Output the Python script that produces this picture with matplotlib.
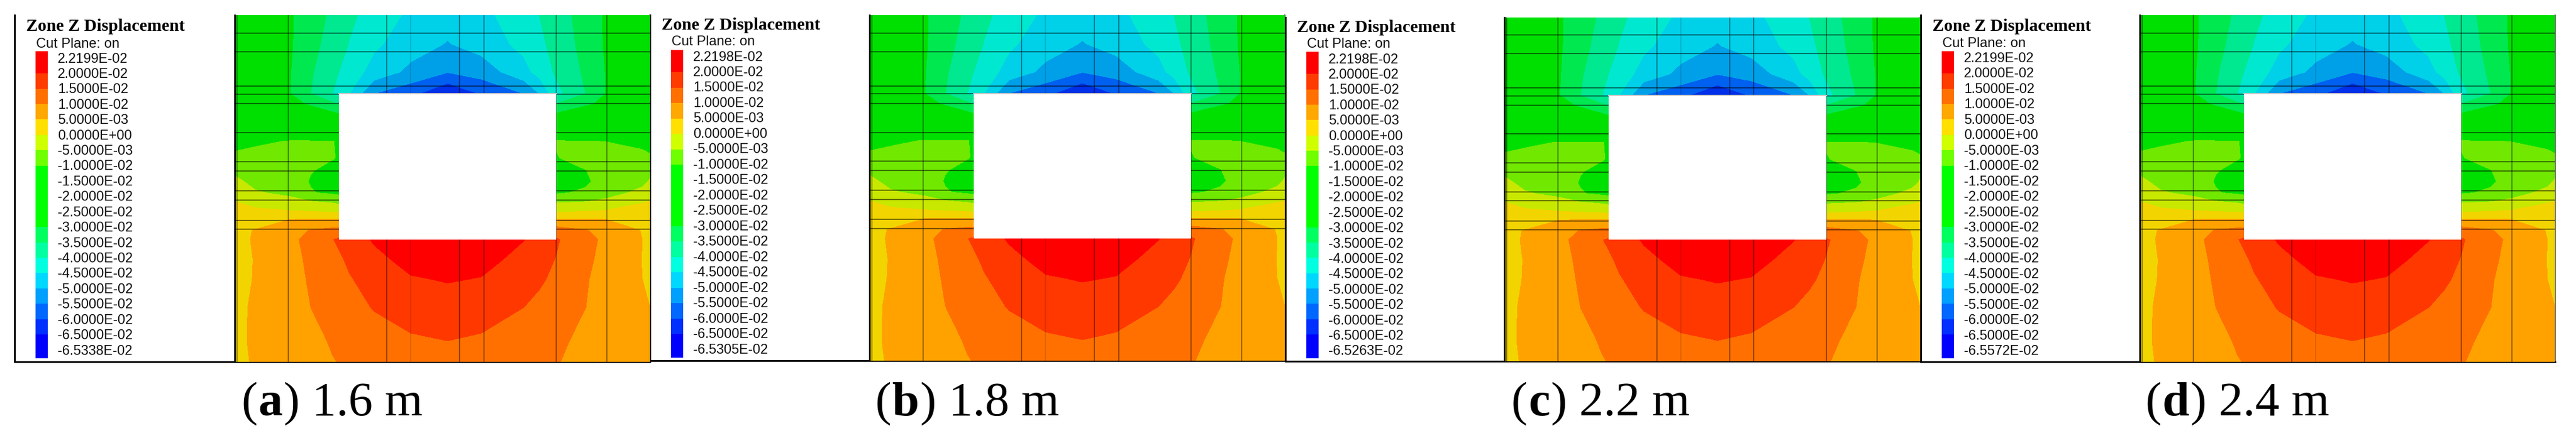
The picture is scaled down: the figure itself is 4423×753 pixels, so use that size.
import numpy as np
import matplotlib
matplotlib.use('Agg')
import matplotlib.pyplot as plt
from matplotlib.patches import Rectangle

plt.rcParams['font.family'] = ['Liberation Sans', 'DejaVu Sans']

# displacement field (units of 1e-3), nodes on a model grid
x_nodes = [26, 100, 222, 295, 372, 432, 520, 650, 780, 900, 1050, 1105, 1165, 1270, 1340, 1470, 1497]
y_nodes = [54, 158, 258, 335, 372, 405, 505, 565, 610, 650, 690, 720, 760, 785, 825, 857, 930, 1000, 1100, 1220, 1295]
disp = [
    [-22, -25, -29.5, -32.5, -36, -39, -42, -46, -48, -46.5, -41.8, -40, -37.7, -32.5, -29.5, -25, -24],
    [-22, -25, -29.5, -33.2, -37.2, -40.2, -44.1, -47.8, -50.3, -48, -43.5, -41.1, -38.3, -33.2, -29.5, -25, -24],
    [-22, -25, -29.8, -34.4, -38.7, -42.2, -47, -51.3, -54.8, -52.8, -46.8, -43.1, -39.3, -34.1, -29.9, -25, -24],
    [-21, -24, -30, -35, -40, -45, -55, -58.5, -64.9, -59.5, -55, -50, -41.5, -35, -30, -24, -22],
    [-21, -24, -27.5, -31, -34, -38, -40, -42, -42, -42, -40, -38, -35, -31.1, -28.4, -24, -22],
    [-20, -22, -24, -26, -29.3, -32, -32, -32, -32, -32, -32, -32, -30, -26, -24, -22, -20],
    [-12.5, -10.8, -9.8, -9.8, -9.8, -12, -12, -12, -12, -12, -12, -12, -9.7, -9.9, -10.1, -12, -13],
    [-8.4, -8.4, -8.5, -8.8, -9.8, -11, -12, -12, -12, -12, -12, -12, -10.2, -8.5, -7.5, -8, -9],
    [-6, -7, -7.9, -9.8, -11, -12, -12, -12, -12, -12, -12, -12, -12, -10.1, -7.5, -6.8, -6],
    [-3.8, -6.5, -8, -10.3, -11.5, -12, -12, -12, -12, -12, -12, -12, -12, -10.8, -8, -6.1, -4.6],
    [-1.8, -4.5, -6.2, -9.7, -10.8, -11.5, -11, -11, -11, -11, -11, -11, -10.6, -9.2, -6.8, -3.8, -2.2],
    [0, -1.5, -3.5, -5, -6, -8, -8, -8, -8, -8, -8, -8, -6, -5.3, -4.2, -0.5, 0],
    [2.5, 1, 0.7, 0.4, 0.1, -1, -1, -1, -1, -1, -1, -1, 0, 0.5, 1, 2.2, 2.5],
    [3.5, 3.3, 5, 5.1, 5.2, 5, 5, 5, 5, 5, 5, 5, 5.2, 5.2, 5, 3, 2.8],
    [4, 5.2, 8, 10.3, 11.5, 12, 13, 13, 13, 13, 13, 13, 12.5, 10.3, 8, 4.8, 3.8],
    [3.8, 5.4, 9, 11.3, 14.8, 17.5, 20.5, 22, 22.2, 22, 20.1, 18, 15.5, 11.5, 9, 5, 4],
    [3.6, 5.2, 8.8, 10.7, 13.7, 15.6, 18.7, 21.5, 22, 21.3, 18.7, 16.6, 14.8, 10.8, 8.8, 4.9, 4.2],
    [3.5, 5.3, 8.6, 10.4, 12.8, 14.7, 16.5, 19.6, 20.3, 19.8, 16.8, 15.7, 13.9, 10.3, 8.5, 5, 4.3],
    [4, 5.6, 8.4, 10, 11.9, 13.2, 15.3, 17, 18, 17, 15, 13.8, 12, 10, 8.8, 5.7, 5],
    [4, 5.7, 7.9, 8.8, 10.4, 11.4, 12.8, 14.4, 15, 14.4, 12.5, 11.5, 10.8, 9, 8.2, 5.6, 5],
    [3.8, 5.5, 7.6, 8.6, 9.8, 10.6, 11.8, 12.8, 13, 12.8, 11.7, 10.9, 10.2, 8.8, 8, 5.5, 5],
]
levels = [-66, -65, -60, -55, -50, -45, -40, -35, -30, -10, -5, 0, 5, 10, 15, 20, 25]
band_colors = ['#0030e8', '#0030e8', '#0060f0', '#00a0e8', '#00d0e8', '#00e8d0', '#00e890', '#00e850',
               '#00e000', '#70e800', '#c8e800', '#f2d400', '#ffa200', '#ff7000', '#ff3800', '#ff0000']

# opening and mesh lines in the same model coordinates
hole_x = [395, 1165]
hole_y = [336, 857]
mesh_x = [35, 215, 565, 650, 823, 908, 1165, 1344]
mesh_y = [118, 185, 308, 337, 371, 475, 578, 612, 683, 716, 788, 821]

# legend
bar_colors = ['#ff0000', '#ff3c00', '#ff7000', '#ffa800', '#ffe000', '#d0ff00', '#70ff00', '#00ff00',
              '#00ff60', '#00ffa0', '#00ffe0', '#00d8ff', '#00a0ff', '#0068ff', '#0030ff', '#0000ff']
bar_sizes = [1.45, 1, 1, 1, 1, 1, 1, 4, 1, 1, 1, 1, 1, 1, 1, 1.55]
label_mid = ['2.0000E-02', '1.5000E-02', '1.0000E-02', '5.0000E-03', '0.0000E+00', '-5.0000E-03',
             '-1.0000E-02', '-1.5000E-02', '-2.0000E-02', '-2.5000E-02', '-3.0000E-02', '-3.5000E-02',
             '-4.0000E-02', '-4.5000E-02', '-5.0000E-02', '-5.5000E-02', '-6.0000E-02', '-6.5000E-02']
label_max = ['2.2199E-02', '2.2198E-02', '2.2198E-02', '2.2199E-02']
label_min = ['-6.5338E-02', '-6.5305E-02', '-6.5263E-02', '-6.5572E-02']
caption_letter = ['a', 'b', 'c', 'd']
caption_value = ['1.6 m', '1.8 m', '2.2 m', '2.4 m']

# layout in pixels
W, H = 4423, 753
frame_left = [25, 1116, 2207, 3298]
plot_left = [403, 1493, 2583, 3674]
plot_right = [1116, 2206, 3297, 4387]
plot_top = [26, 26, 30, 26]
plot_bottom = [622, 620, 621, 622]
title_y = [45, 43, 47, 45]
cut_y = [76, 72, 76, 75]
bar_top = [88, 86, 89, 88]
bar_bottom = [616, 615, 616, 616]
first_label_y = [101, 98, 102, 100]
last_label_y = [603, 601, 604, 604]
caption_x = [414, 1502, 2594, 3683]
caption_base = 714

fig = plt.figure(figsize=(W / 100, H / 100), dpi=100)
bg = fig.add_axes([0, 0, 1, 1])
bg.set_xlim(0, W)
bg.set_ylim(H, 0)
bg.axis('off')

for i in range(4):
    ax = fig.add_axes([plot_left[i] / W, 1 - plot_bottom[i] / H,
                       (plot_right[i] - plot_left[i]) / W, (plot_bottom[i] - plot_top[i]) / H])
    ax.contourf(x_nodes, y_nodes, disp, levels=levels, colors=band_colors)
    for x in mesh_x:
        ax.axvline(x, color='k', lw=1.5, alpha=0.12 if x == 650 else 0.4)
    for y in mesh_y:
        ax.axhline(y, color='k', lw=1.5, alpha=0.5)
    ax.add_patch(Rectangle((hole_x[0], hole_y[0]), hole_x[1] - hole_x[0], hole_y[1] - hole_y[0],
                           facecolor='white', edgecolor='none', zorder=5))
    ax.plot(hole_x, [hole_y[0], hole_y[0]], color='#c8c8c8', lw=1.5, zorder=6)
    ax.set_xlim(x_nodes[0], x_nodes[-1])
    ax.set_ylim(y_nodes[-1], y_nodes[0])
    ax.set_xticks([])
    ax.set_yticks([])
    for s in ['top', 'right']:
        ax.spines[s].set_visible(False)
    ax.spines['left'].set_linewidth(2)
    ax.spines['bottom'].set_visible(False)

    # frame of the panel
    bg.plot([frame_left[i], frame_left[i]], [plot_top[i], plot_bottom[i]], color='k', lw=2.2)
    bg.plot([frame_left[i], plot_right[i]], [plot_bottom[i], plot_bottom[i]], color='k', lw=2.2)
    bg.plot([plot_right[i], plot_right[i]], [plot_top[i], plot_bottom[i]], color='k', lw=1.2)

    # colour legend
    x0 = frame_left[i] + 36
    sizes = np.array(bar_sizes)
    px = sizes / sizes.sum() * (bar_bottom[i] - bar_top[i])
    tops = bar_top[i] + np.concatenate(([0], np.cumsum(px)[:-1]))
    bg.bar([x0 + 10.5] * len(px), px, width=21, bottom=tops, color=bar_colors, align='center')

    labels = [label_max[i]] + label_mid + [label_min[i]]
    ys = np.linspace(first_label_y[i], last_label_y[i], len(labels))
    for y, t in zip(ys, labels):
        bg.text(frame_left[i] + 74, y, t, fontsize=16.8, va='center', ha='left', color='#111111')
    bg.text(frame_left[i] + 20, title_y[i], 'Zone Z Displacement', family='Liberation Serif',
            weight='bold', fontsize=21.5, va='center', ha='left')
    bg.text(frame_left[i] + 37, cut_y[i], 'Cut Plane: on', fontsize=17, va='center', ha='left', color='#111111')

# captions, the letter is bold
fig.canvas.draw()
for i in range(4):
    x = caption_x[i]
    for part, w in [('(', 'normal'), (caption_letter[i], 'bold'), (') ' + caption_value[i], 'normal')]:
        t = bg.text(x, caption_base, part, family='Liberation Serif', weight=w, fontsize=60,
                    va='baseline', ha='left')
        x = t.get_window_extent().x1 + 2

fig.savefig('out.png', dpi=100)
